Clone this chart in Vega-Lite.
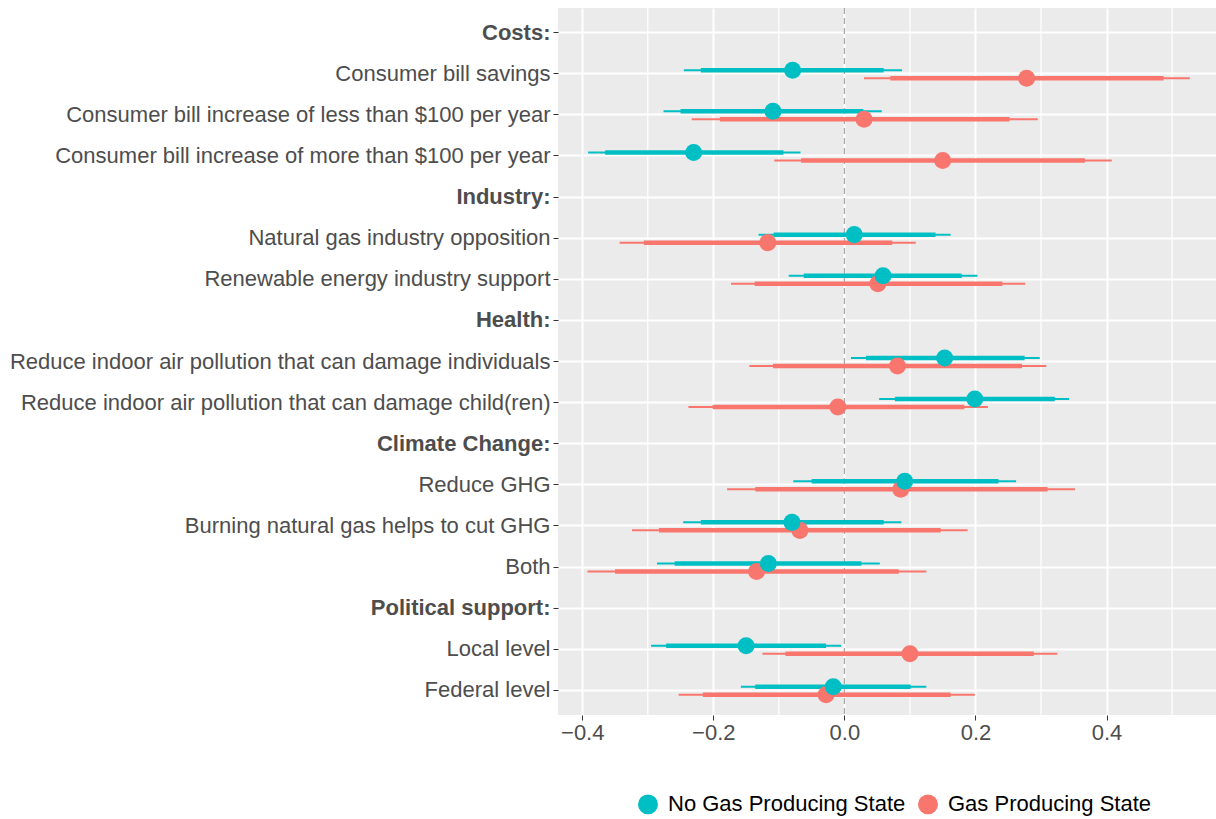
{
  "$schema": "https://vega.github.io/schema/vega-lite/v6.json",
  "width": 658,
  "height": 707,
  "autosize": {"type": "none"},
  "padding": {"left": 558, "top": 8, "right": 0, "bottom": 104},
  "background": "white",
  "config": {
    "view": {"fill": "#EBEBEB", "stroke": null},
    "font": "Liberation Sans",
    "axis": {
      "labelFont": "Liberation Sans",
      "labelFontSize": 22,
      "labelColor": "#4D4D4D",
      "tickColor": "#333333",
      "tickSize": 5,
      "tickWidth": 1,
      "domain": false,
      "gridColor": "#FFFFFF",
      "gridWidth": 2,
      "labelPadding": 3,
      "title": null
    },
    "legend": {
      "orient": "none",
      "legendX": 79,
      "legendY": 785,
      "direction": "horizontal",
      "labelFont": "Liberation Sans",
      "labelFontSize": 22,
      "labelColor": "#000000",
      "labelLimit": 400,
      "symbolSize": 340,
      "symbolType": "circle",
      "columnPadding": 9,
      "labelOffset": 9
    }
  },
  "datasets": {
    "estimates": [
      {"item": "Consumer bill savings", "group": "Gas Producing State", "est": 0.278, "lo95": 0.030, "hi95": 0.527, "lo90": 0.070, "hi90": 0.487},
      {"item": "Consumer bill increase of less than $100 per year", "group": "Gas Producing State", "est": 0.030, "lo95": -0.233, "hi95": 0.295, "lo90": -0.190, "hi90": 0.252},
      {"item": "Consumer bill increase of more than $100 per year", "group": "Gas Producing State", "est": 0.150, "lo95": -0.107, "hi95": 0.408, "lo90": -0.066, "hi90": 0.367},
      {"item": "Natural gas industry opposition", "group": "Gas Producing State", "est": -0.117, "lo95": -0.343, "hi95": 0.109, "lo90": -0.306, "hi90": 0.073},
      {"item": "Renewable energy industry support", "group": "Gas Producing State", "est": 0.051, "lo95": -0.173, "hi95": 0.276, "lo90": -0.137, "hi90": 0.241},
      {"item": "Reduce indoor air pollution that can damage individuals", "group": "Gas Producing State", "est": 0.081, "lo95": -0.145, "hi95": 0.308, "lo90": -0.109, "hi90": 0.271},
      {"item": "Reduce indoor air pollution that can damage child(ren)", "group": "Gas Producing State", "est": -0.010, "lo95": -0.238, "hi95": 0.219, "lo90": -0.201, "hi90": 0.183},
      {"item": "Reduce GHG", "group": "Gas Producing State", "est": 0.086, "lo95": -0.179, "hi95": 0.352, "lo90": -0.136, "hi90": 0.310},
      {"item": "Burning natural gas helps to cut GHG", "group": "Gas Producing State", "est": -0.068, "lo95": -0.324, "hi95": 0.188, "lo90": -0.283, "hi90": 0.147},
      {"item": "Both", "group": "Gas Producing State", "est": -0.134, "lo95": -0.392, "hi95": 0.125, "lo90": -0.350, "hi90": 0.083},
      {"item": "Local level", "group": "Gas Producing State", "est": 0.100, "lo95": -0.125, "hi95": 0.325, "lo90": -0.090, "hi90": 0.289},
      {"item": "Federal level", "group": "Gas Producing State", "est": -0.028, "lo95": -0.253, "hi95": 0.199, "lo90": -0.216, "hi90": 0.162},
      {"item": "Consumer bill savings", "group": "No Gas Producing State", "est": -0.079, "lo95": -0.245, "hi95": 0.088, "lo90": -0.219, "hi90": 0.060},
      {"item": "Consumer bill increase of less than $100 per year", "group": "No Gas Producing State", "est": -0.109, "lo95": -0.276, "hi95": 0.057, "lo90": -0.250, "hi90": 0.029},
      {"item": "Consumer bill increase of more than $100 per year", "group": "No Gas Producing State", "est": -0.230, "lo95": -0.391, "hi95": -0.067, "lo90": -0.365, "hi90": -0.093},
      {"item": "Natural gas industry opposition", "group": "No Gas Producing State", "est": 0.015, "lo95": -0.131, "hi95": 0.162, "lo90": -0.108, "hi90": 0.139},
      {"item": "Renewable energy industry support", "group": "No Gas Producing State", "est": 0.059, "lo95": -0.085, "hi95": 0.203, "lo90": -0.062, "hi90": 0.179},
      {"item": "Reduce indoor air pollution that can damage individuals", "group": "No Gas Producing State", "est": 0.153, "lo95": 0.010, "hi95": 0.298, "lo90": 0.033, "hi90": 0.275},
      {"item": "Reduce indoor air pollution that can damage child(ren)", "group": "No Gas Producing State", "est": 0.199, "lo95": 0.053, "hi95": 0.343, "lo90": 0.077, "hi90": 0.321},
      {"item": "Reduce GHG", "group": "No Gas Producing State", "est": 0.092, "lo95": -0.078, "hi95": 0.262, "lo90": -0.050, "hi90": 0.235},
      {"item": "Burning natural gas helps to cut GHG", "group": "No Gas Producing State", "est": -0.080, "lo95": -0.246, "hi95": 0.087, "lo90": -0.219, "hi90": 0.060},
      {"item": "Both", "group": "No Gas Producing State", "est": -0.116, "lo95": -0.286, "hi95": 0.054, "lo90": -0.259, "hi90": 0.026},
      {"item": "Local level", "group": "No Gas Producing State", "est": -0.150, "lo95": -0.295, "hi95": -0.005, "lo90": -0.272, "hi90": -0.028},
      {"item": "Federal level", "group": "No Gas Producing State", "est": -0.017, "lo95": -0.158, "hi95": 0.125, "lo90": -0.136, "hi90": 0.101}
    ]
  },
  "layer": [
    {
      "data": {"values": [{"v": -0.3}, {"v": -0.1}, {"v": 0.1}, {"v": 0.3}, {"v": 0.5}]},
      "mark": {"type": "rule", "color": "#FFFFFF", "strokeWidth": 1.2},
      "encoding": {
        "x": {"field": "v", "type": "quantitative", "scale": {"domain": [-0.437, 0.567], "nice": false, "zero": false},
              "axis": {"values": [-0.4, -0.2, 0, 0.2, 0.4], "format": ".1f", "grid": true, "labelPadding": 2}}
      }
    },
    {
      "data": {"values": [{"v": 0}]},
      "mark": {"type": "rule", "color": "#A8A8A8", "strokeWidth": 1.3, "strokeDash": [6, 4]},
      "encoding": {
        "x": {"field": "v", "type": "quantitative", "scale": {"domain": [-0.437, 0.567], "nice": false, "zero": false},
              "axis": {"values": [-0.4, -0.2, 0, 0.2, 0.4], "format": ".1f", "grid": true, "labelPadding": 2}}
      }
    },
    {
      "data": {"name": "estimates"},
      "mark": {"type": "rule", "strokeWidth": 2},
      "encoding": {
        "y": {"field": "item", "type": "nominal",
              "scale": {"type": "band", "paddingInner": 0, "paddingOuter": 0.1,
                        "domain": ["Costs:", "Consumer bill savings", "Consumer bill increase of less than $100 per year", "Consumer bill increase of more than $100 per year", "Industry:", "Natural gas industry opposition", "Renewable energy industry support", "Health:", "Reduce indoor air pollution that can damage individuals", "Reduce indoor air pollution that can damage child(ren)", "Climate Change:", "Reduce GHG", "Burning natural gas helps to cut GHG", "Both", "Political support:", "Local level", "Federal level"]},
              "axis": {"bandPosition": 0.5, "grid": true, "labelLimit": 700,
                       "labelFontWeight": {"condition": {"test": "indexof(['Costs:', 'Industry:', 'Health:', 'Climate Change:', 'Political support:'], datum.value) >= 0", "value": "bold"}, "value": "normal"}}},
        "yOffset": {"field": "group", "type": "nominal", "scale": {"type": "point", "padding": 0, "domain": ["No Gas Producing State", "Gas Producing State"], "range": [17.0, 25.0]}},
        "x": {"field": "lo95", "type": "quantitative", "scale": {"domain": [-0.437, 0.567], "nice": false, "zero": false},
              "axis": {"values": [-0.4, -0.2, 0, 0.2, 0.4], "format": ".1f", "grid": true, "labelPadding": 2}},
        "x2": {"field": "hi95"},
        "color": {"field": "group", "type": "nominal",
                  "scale": {"domain": ["No Gas Producing State", "Gas Producing State"], "range": ["#00BFC4", "#F8766D"]},
                  "legend": {"title": null, "symbolType": "circle", "symbolSize": 340}}
      }
    },
    {
      "data": {"name": "estimates"},
      "mark": {"type": "rule", "strokeWidth": 4.5},
      "encoding": {
        "y": {"field": "item", "type": "nominal"},
        "yOffset": {"field": "group", "type": "nominal"},
        "x": {"field": "lo90", "type": "quantitative", "scale": {"domain": [-0.437, 0.567], "nice": false, "zero": false},
              "axis": {"values": [-0.4, -0.2, 0, 0.2, 0.4], "format": ".1f", "grid": true, "labelPadding": 2}},
        "x2": {"field": "hi90"},
        "color": {"field": "group", "type": "nominal",
                  "legend": {"title": null, "symbolType": "circle", "symbolSize": 340}}
      }
    },
    {
      "data": {"name": "estimates"},
      "mark": {"type": "point", "shape": "circle", "filled": true, "opacity": 1, "size": 290},
      "encoding": {
        "y": {"field": "item", "type": "nominal"},
        "yOffset": {"field": "group", "type": "nominal"},
        "x": {"field": "est", "type": "quantitative", "scale": {"domain": [-0.437, 0.567], "nice": false, "zero": false},
              "axis": {"values": [-0.4, -0.2, 0, 0.2, 0.4], "format": ".1f", "grid": true, "labelPadding": 2}},
        "color": {"field": "group", "type": "nominal",
                  "legend": {"title": null, "symbolType": "circle", "symbolSize": 340}}
      }
    }
  ]
}
